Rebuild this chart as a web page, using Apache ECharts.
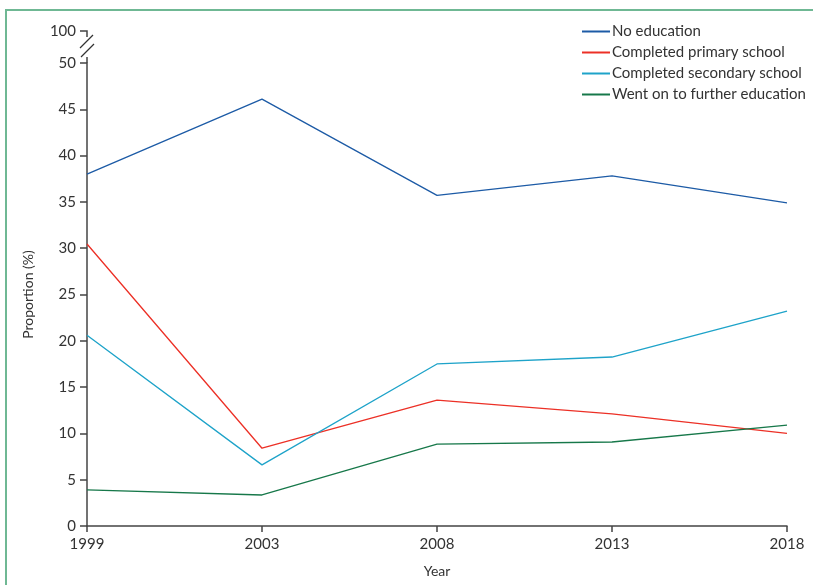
<!DOCTYPE html>
<html><head><meta charset="utf-8">
<script src="https://cdn.jsdelivr.net/npm/echarts@6/dist/echarts.min.js"></script>
<style>html,body{margin:0;padding:0;background:#fff}#c{width:813px;height:585px}</style>
</head><body><div id="c"></div>
<script>
const years = ['1999', '2003', '2008', '2013', '2018'];
const noEducation = [38.0, 46.1, 35.7, 37.8, 34.9];
const primarySchool = [30.45, 8.4, 13.6, 12.1, 10.0];
const secondarySchool = [20.6, 6.6, 17.5, 18.25, 23.2];
const furtherEducation = [3.9, 3.35, 8.85, 9.07, 10.9];
const seriesNames = ['No education', 'Completed primary school', 'Completed secondary school', 'Went on to further education'];
const colors = ['#1d5ba6', '#ec3026', '#1ea3c9', '#17784a'];

const font = 'Lato';
const axisColor = '#444';
const chart = echarts.init(document.getElementById('c'));
const dataSets = [noEducation, primarySchool, secondarySchool, furtherEducation];
chart.setOption({
  backgroundColor: '#fff',
  animation: false,
  textStyle: { fontFamily: font },
  grid: { left: 87, right: 26, top: 63, bottom: 59, outerBoundsMode: 'none', containLabel: false },
  legend: {
    orient: 'vertical', left: 582, top: 24, padding: 0, itemWidth: 28, itemHeight: 2, itemGap: 6,
    icon: 'rect',
    textStyle: { fontFamily: font, fontSize: 15, color: '#333', padding: [0, 0, 0, -3] },
    data: seriesNames
  },
  xAxis: {
    type: 'category', data: years, boundaryGap: false,
    name: 'Year', nameLocation: 'middle', nameGap: 38,
    nameTextStyle: { fontFamily: font, fontSize: 14, color: '#333' },
    axisLine: { lineStyle: { color: axisColor, width: 1.5 } },
    axisTick: { length: 6, lineStyle: { color: axisColor, width: 1.5 } },
    axisLabel: { fontFamily: font, fontSize: 15, color: '#333', margin: 11 },
    splitLine: { show: false }
  },
  yAxis: {
    type: 'value', min: 0, max: 50, interval: 5,
    name: 'Proportion (%)', nameLocation: 'middle', nameGap: 52, nameRotate: 90,
    nameTextStyle: { fontFamily: font, fontSize: 14, color: '#333' },
    axisLine: { show: true, lineStyle: { color: axisColor, width: 1.5 } },
    axisTick: { show: true, length: 7, lineStyle: { color: axisColor, width: 1.5 } },
    axisLabel: { fontFamily: font, fontSize: 15, color: '#333', margin: 11 },
    splitLine: { show: false }
  },
  series: dataSets.map((d, i) => ({
    name: seriesNames[i], type: 'line', data: d, symbol: 'none',
    lineStyle: { color: colors[i], width: 1.3 }, itemStyle: { color: colors[i] }
  })),
  graphic: [
    { type: 'polyline', shape: { points: [[6, 585], [6, 10], [813, 10]] }, style: { stroke: '#6fb894', lineWidth: 2, fill: null } },
    { type: 'line', shape: { x1: 87, y1: 63, x2: 87, y2: 57 }, style: { stroke: axisColor, lineWidth: 1.5 } },
    { type: 'polyline', shape: { points: [[80, 31], [87, 31], [87, 37]] }, style: { stroke: axisColor, lineWidth: 1.5, fill: null } },
    { type: 'line', shape: { x1: 80, y1: 48, x2: 93, y2: 35 }, style: { stroke: '#333', lineWidth: 1.3 } },
    { type: 'line', shape: { x1: 81, y1: 57, x2: 94, y2: 44 }, style: { stroke: '#333', lineWidth: 1.3 } },
    { type: 'text', style: { text: '100', x: 76, y: 31, align: 'right', verticalAlign: 'middle', font: '15px Lato', fill: '#333' } }
  ]
});
</script></body></html>
